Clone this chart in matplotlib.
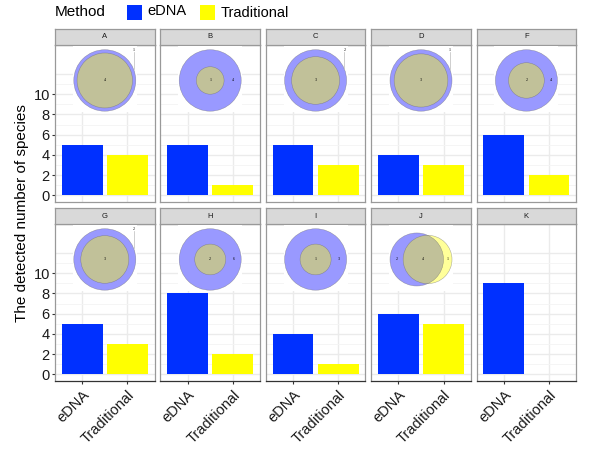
import numpy as np
import matplotlib
matplotlib.use('Agg')
import matplotlib.pyplot as plt
from matplotlib.patches import Circle, Rectangle

plt.rcParams['font.family'] = ['Liberation Sans', 'DejaVu Sans']

# ---------------- data ----------------
sites = ['A', 'B', 'C', 'D', 'F', 'G', 'H', 'I', 'J', 'K']
methods = ['eDNA', 'Traditional']
edna_counts = [5, 5, 5, 4, 6, 5, 8, 4, 6, 9]
trad_counts = [4, 1, 3, 3, 2, 3, 2, 1, 5, 0]
shared_counts = [4, 1, 3, 3, 2, 3, 2, 1, 4, 0]
y_tick_values = [0, 2, 4, 6, 8, 10]
legend_title = 'Method'
y_title = 'The detected number of species'

# ---------------- style / layout ----------------
W, H = 600, 450
BLUE = '#0030FF'
YELLOW = '#FFFF00'
YLIM = (-0.65, 14.85)
XLIM = (0.4, 2.6)
col_left = [55 + i * 105.4 for i in range(5)]
panel_w = 99.6
rows = [(29, 45, 202), (208, 224, 381)]
border = '#999999'

fig = plt.figure(figsize=(6, 4.5), dpi=100)


def px_rect(x0, y0, x1, y1):
    return [x0 / W, 1 - y1 / H, (x1 - x0) / W, (y1 - y0) / H]


def overlap_area(r1, r2, d):
    if d >= r1 + r2:
        return 0.0
    if d <= abs(r1 - r2):
        return np.pi * min(r1, r2) ** 2
    a = r1 ** 2 * np.arccos((d * d + r1 * r1 - r2 * r2) / (2 * d * r1))
    b = r2 ** 2 * np.arccos((d * d + r2 * r2 - r1 * r1) / (2 * d * r2))
    c = 0.5 * np.sqrt((-d + r1 + r2) * (d + r1 - r2) * (d - r1 + r2) * (d + r1 + r2))
    return a + b - c


def solve_d(r1, r2, target):
    lo, hi = abs(r1 - r2), r1 + r2
    for _ in range(100):
        mid = (lo + hi) / 2
        if overlap_area(r1, r2, mid) > target:
            lo = mid
        else:
            hi = mid
    return (lo + hi) / 2


def draw_venn(x0, x1, y_top, y_bot, e, t, s):
    cxp = (x0 + x1) / 2
    iw = 64
    v_bottom = 8.2
    yb = y_bot - (v_bottom - YLIM[0]) / (YLIM[1] - YLIM[0]) * (y_bot - y_top)
    ih = yb - y_top
    iax = fig.add_axes(px_rect(cxp - iw / 2, y_top + 0.6, cxp + iw / 2, yb))
    iax.set_xlim(-iw / 2, iw / 2)
    iax.set_ylim(-ih / 2, ih / 2)
    iax.set_facecolor('white')
    for sp in iax.spines.values():
        sp.set_visible(False)
    iax.set_xticks([]); iax.set_yticks([])

    r1 = np.sqrt(e / np.pi)
    r2 = np.sqrt(t / np.pi)
    d = 0.0 if s >= t else solve_d(r1, r2, s)
    left = -r1
    right = max(r1, d + r2)
    scale = 62 / (right - left)
    shift = (left + right) / 2
    cy = -1.5
    c1x = (0 - shift) * scale
    c2x = (d - shift) * scale
    R1, R2 = r1 * scale, r2 * scale
    iax.add_patch(Circle((c1x, cy), R1, facecolor='blue', alpha=0.4, edgecolor='none'))
    iax.add_patch(Circle((c2x, cy), R2, facecolor='yellow', alpha=0.4, edgecolor='none'))
    iax.add_patch(Circle((c1x, cy), R1, facecolor='none', edgecolor='#666666', lw=0.35, alpha=0.6))
    iax.add_patch(Circle((c2x, cy), R2, facecolor='none', edgecolor='#666666', lw=0.35, alpha=0.6))
    lab = dict(fontsize=3, family='Liberation Serif', ha='center', va='center', color='black')
    e_only = e - s
    t_only = t - s
    if d == 0:
        iax.text(c2x, cy, str(s), **lab)
        if e_only > 0:
            if R2 / R1 <= 0.7:
                iax.text(c1x + (R1 + R2) / 2, cy, str(e_only), **lab)
            else:
                lx = c1x + 0.93 * R1
                ly = cy + 0.98 * R1
                iax.text(lx, ly, str(e_only), clip_on=False, **lab)
                iax.plot([lx, lx], [ly - 1.5, cy + np.sqrt(R1 ** 2 - (0.93 * R1) ** 2)],
                         color='#BBBBBB', lw=0.5, clip_on=False)
    else:
        iax.text((c1x - R1 + c2x - R2) / 2, cy, str(e_only), **lab)
        iax.text((c2x - R2 + c1x + R1) / 2, cy, str(s), **lab)
        iax.text((c1x + R1 + c2x + R2) / 2, cy, str(t_only), **lab)


for i, site in enumerate(sites):
    r, c = divmod(i, 5)
    s_top, p_top, p_bot = rows[r]
    x0 = col_left[c]
    x1 = x0 + panel_w
    ax = fig.add_axes(px_rect(x0, p_top, x1, p_bot))
    ax.set_xlim(XLIM)
    ax.set_ylim(YLIM)
    ax.set_yticks(y_tick_values + [12])
    ax.set_yticks([1, 3, 5, 7, 9, 11], minor=True)
    ax.set_xticks([1, 2])
    ax.grid(which='major', color='#EBEBEB', lw=1.0, zorder=0)
    ax.grid(which='minor', axis='y', color='#F4F4F4', lw=0.6, zorder=0)
    ax.set_axisbelow(True)
    ax.bar([1, 2], [edna_counts[i], trad_counts[i]], width=0.9,
           color=[BLUE, YELLOW], zorder=2)
    for sp in ax.spines.values():
        sp.set_color(border)
        sp.set_linewidth(0.9)
    ax.tick_params(which='minor', length=0)
    ax.tick_params(which='major', color='#333333', width=0.8, length=2.2,
                   labelsize=10.5, labelcolor='#1a1a1a', pad=1.5)
    ticks = ax.yaxis.get_major_ticks()
    ticks[-1].tick1line.set_visible(False)
    if c == 0:
        ax.set_yticklabels([str(v) for v in y_tick_values] + [''])
    else:
        ax.set_yticklabels([])
        ax.tick_params(axis='y', length=0)
    if r == 1:
        ax.spines['bottom'].set_color('#333333')
        ax.set_xticklabels(methods, rotation=45, ha='right', va='top',
                           rotation_mode='anchor')
        ax.tick_params(axis='x', pad=2.5)
    else:
        ax.set_xticklabels([])
        ax.tick_params(axis='x', length=0)
    sax = fig.add_axes(px_rect(x0, s_top, x1, p_top))
    sax.set_facecolor('#D9D9D9')
    sax.set_xticks([]); sax.set_yticks([])
    for sp in sax.spines.values():
        sp.set_color(border)
        sp.set_linewidth(0.9)
    sax.text(0.5, 0.5, site, ha='center', va='center', fontsize=5.5,
             color='#1A1A1A', transform=sax.transAxes)
    if trad_counts[i] > 0:
        draw_venn(x0, x1, p_top, p_bot, edna_counts[i], trad_counts[i], shared_counts[i])

# legend
fig.text(55 / W, 1 - 12 / H, legend_title, fontsize=11, va='center', ha='left')
fig.add_artist(Rectangle((127 / W, 1 - 19.5 / H), 15 / W, 15 / H, transform=fig.transFigure,
                         facecolor=BLUE, edgecolor='none'))
fig.text(147 / W, 1 - 11 / H, methods[0], fontsize=10.5, va='center', ha='left')
fig.add_artist(Rectangle((200 / W, 1 - 19.5 / H), 15 / W, 15 / H, transform=fig.transFigure,
                         facecolor=YELLOW, edgecolor='none'))
fig.text(221 / W, 1 - 13 / H, methods[1], fontsize=10.5, va='center', ha='left')

fig.text(22.5 / W, 1 - 213 / H, y_title, rotation=90, ha='center', va='center', fontsize=11)

fig.savefig('out.png', dpi=100)
